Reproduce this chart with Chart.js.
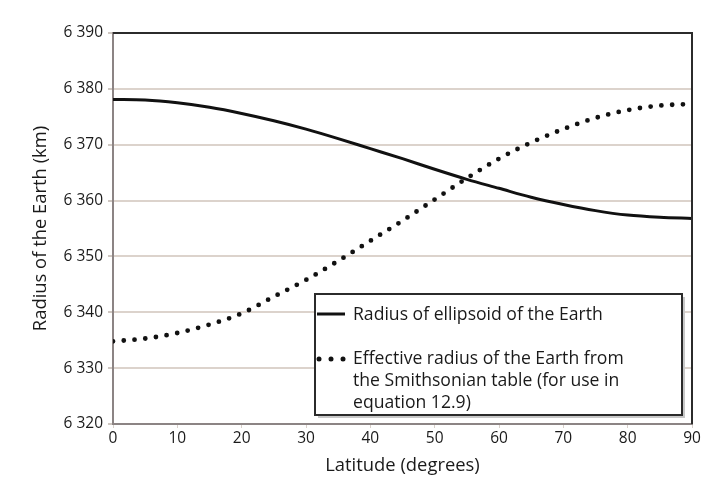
<!DOCTYPE html>
<html>
<head>
<meta charset="utf-8">
<script src="https://cdn.jsdelivr.net/npm/chart.js@4/dist/chart.umd.min.js"></script>
<style>
  html, body { margin: 0; padding: 0; background: #fff; }
  #wrap { width: 708px; height: 479px; }
</style>
</head>
<body>
<div id="wrap"><canvas id="myChart"></canvas></div>
<script>
// latitude in degrees
const latitudes = [0, 5, 10, 15, 20, 25, 30, 35, 40, 45, 50, 55, 60, 65, 70, 75, 80, 85, 90];
// radius of ellipsoid of the Earth (km)
const ellipsoidRadius = [6378.1, 6378.0, 6377.5, 6376.7, 6375.6, 6374.3, 6372.8, 6371.1, 6369.3, 6367.5,
    6365.6, 6363.8, 6362.2, 6360.6, 6359.3, 6358.2, 6357.4, 6357.0, 6356.8];
// effective radius from the Smithsonian table (km)
const effectiveRadius = [6334.8, 6335.3, 6336.3, 6337.8, 6339.8, 6342.8, 6345.8, 6349.2, 6352.8, 6356.4,
    6360.2, 6364.0, 6367.5, 6370.4, 6372.8, 6374.8, 6376.2, 6377.0, 6377.3];

const seriesNames = ["Radius of ellipsoid of the Earth", "Effective radius of the Earth from the Smithsonian table (for use in equation 12.9)"];
const legendLines = [
    ["Radius of ellipsoid of the Earth"],
    ["Effective radius of the Earth from", "the Smithsonian table (for use in", "equation 12.9)"],
];
const yMin = 6320, yMax = 6390, yStep = 10;
const xMin = 0, xMax = 90, xStep = 10;

const FONT = '"Open Sans", "Noto Sans", sans-serif';

const toPoints = (vals) => latitudes.map((lat, i) => ({ x: lat, y: vals[i] }));

// top and right frame lines
const frame = {
    id: "frame",
    afterDraw(chart) {
        const { ctx, chartArea: a } = chart;
        ctx.save();
        ctx.strokeStyle = "#2b2b2b";
        ctx.lineWidth = 2;
        ctx.beginPath();
        ctx.moveTo(a.left, a.top);
        ctx.lineTo(a.right, a.top);
        ctx.lineTo(a.right, a.bottom);
        ctx.stroke();
        ctx.restore();
    },
};

// legend box inside the plot
const boxLegend = {
    id: "boxLegend",
    afterDraw(chart) {
        const { ctx, chartArea: a } = chart;
        const x0 = a.right - 377, y0 = a.bottom - 130, w = 367, h = 121;
        ctx.save();
        ctx.fillStyle = "#c8c8c8";
        ctx.fillRect(x0 + 3, y0 + 3, w, h);
        ctx.fillStyle = "#fff";
        ctx.fillRect(x0, y0, w, h);
        ctx.strokeStyle = "#2b2b2b";
        ctx.lineWidth = 2;
        ctx.strokeRect(x0, y0, w, h);

        ctx.font = "17.6px " + FONT;
        ctx.fillStyle = "#1a1a1a";
        ctx.textBaseline = "middle";
        const tx = x0 + 38;

        // solid sample
        ctx.strokeStyle = "#111";
        ctx.lineWidth = 3;
        ctx.beginPath();
        ctx.moveTo(x0 + 2, y0 + 20);
        ctx.lineTo(x0 + 30, y0 + 20);
        ctx.stroke();
        ctx.fillText(legendLines[0][0], tx, y0 + 21);

        // dotted sample
        ctx.fillStyle = "#111";
        [4, 16, 28].forEach((dx) => {
            ctx.beginPath();
            ctx.arc(x0 + dx, y0 + 65, 2.5, 0, Math.PI * 2);
            ctx.fill();
        });
        ctx.fillStyle = "#1a1a1a";
        legendLines[1].forEach((line, i) => {
            ctx.fillText(line, tx, y0 + 65 + i * 22);
        });
        ctx.restore();
    },
};

const ctx = document.getElementById("myChart");

new Chart(ctx, {
    type: "line",
    data: {
        datasets: [
            {
                label: seriesNames[0],
                data: toPoints(ellipsoidRadius),
                borderColor: "#111",
                borderWidth: 3,
                pointRadius: 0,
                cubicInterpolationMode: "monotone",
                fill: false,
            },
            {
                label: seriesNames[1],
                data: toPoints(effectiveRadius),
                borderColor: "#111",
                borderWidth: 4.8,
                borderDash: [0, 10.8],
                borderCapStyle: "round",
                pointRadius: 0,
                cubicInterpolationMode: "monotone",
                fill: false,
            },
        ],
    },
    options: {
        responsive: true,
        maintainAspectRatio: false,
        animation: false,
        layout: { padding: { left: 26, right: 16, top: 33, bottom: 0 } },
        plugins: {
            legend: { display: false },
            tooltip: { enabled: false },
        },
        scales: {
            x: {
                type: "linear",
                min: xMin,
                max: xMax,
                afterFit(scale) { scale.height = 55; },
                ticks: {
                    stepSize: xStep,
                    color: "#1a1a1a",
                    font: { family: FONT, size: 15.5 },
                    padding: 1,
                    maxRotation: 0,
                },
                grid: {
                    drawOnChartArea: false,
                    tickLength: 4,
                    tickColor: "#d8d0ca",
                },
                border: { color: "#8c8484", width: 2 },
                title: {
                    display: true,
                    text: "Latitude (degrees)",
                    color: "#1a1a1a",
                    font: { family: FONT, size: 18.4 },
                    padding: { top: 2, bottom: 2 },
                },
            },
            y: {
                min: yMin,
                max: yMax,
                afterFit(scale) { scale.width = 87; },
                ticks: {
                    stepSize: yStep,
                    color: "#1a1a1a",
                    font: { family: FONT, size: 15.5 },
                    padding: 5,
                    callback: (v) => String(v).replace(/^(\d)(\d{3})$/, "$1 $2"),
                },
                grid: {
                    color: "#dcd3cc",
                    lineWidth: 2,
                    tickLength: 5,
                    tickColor: "#cfc7c1",
                },
                border: { color: "#8c8484", width: 2 },
                title: {
                    display: true,
                    text: "Radius of the Earth (km)",
                    color: "#1a1a1a",
                    font: { family: FONT, size: 18.4 },
                    padding: 4,
                },
            },
        },
    },
    plugins: [frame, boxLegend],
});
</script>
</body>
</html>
